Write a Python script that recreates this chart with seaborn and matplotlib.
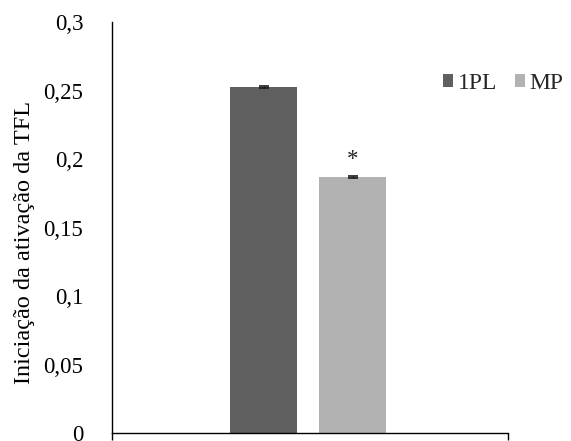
import matplotlib
matplotlib.use("Agg")
import matplotlib.pyplot as plt
import seaborn as sns
import pandas as pd
from matplotlib.ticker import FuncFormatter

# Data
categories = [""]
series = ["1PL", "MP"]
values_1pl = [0.2525]
values_mp = [0.187]
errors = [0.0006, 0.0006]
colors = ["#5f5f5f", "#b2b2b2"]
ylabel = "Iniciação da ativação da TFL"
signif = ["", "*"]

df = pd.DataFrame({
    "cat": categories * 2,
    "serie": series,
    "valor": values_1pl + values_mp,
})

sns.set_theme(style="white")
plt.rcParams["font.family"] = ["Liberation Serif", "DejaVu Serif"]

fig = plt.figure(figsize=(5.71, 4.41), dpi=100)
ax = fig.add_axes([0.197, 0.018, 0.692, 0.932])

sns.barplot(data=df, x="cat", y="valor", hue="serie", palette=colors,
            width=0.45, gap=0.25, errorbar=None, ax=ax, saturation=1,
            linewidth=0)

# error bars and significance marks on bar patches
bars = [p for p in ax.patches if p.get_height() > 0]
vals = values_1pl + values_mp
for p, v, e, s in zip(bars, vals, errors, signif):
    cx = p.get_x() + p.get_width() / 2
    ax.errorbar(cx, v, yerr=e, fmt="none", ecolor="#1a1a1a",
                capsize=3.3, elinewidth=1, capthick=1.2)
    if s:
        ax.text(cx, v + 0.005, s, ha="center", va="bottom", fontsize=16.5,
                color="#222222")

ax.set_xlim(-0.495, 0.505)
ax.set_ylim(0, 0.3)
ax.set_yticks([0, 0.05, 0.1, 0.15, 0.2, 0.25, 0.3])
ax.yaxis.set_major_formatter(FuncFormatter(
    lambda v, pos: ("%g" % round(v, 2)).replace(".", ",")))
ax.set_xticks(list(ax.get_xlim()))
ax.set_xticklabels(["", ""])
ax.tick_params(axis="x", direction="out", length=5, width=1, color="black",
               bottom=True)
ax.tick_params(axis="y", left=False, labelsize=16.5, pad=15, colors="black")
ax.set_xlabel("")
ax.set_ylabel(ylabel, fontsize=17.5, color="black")
ax.yaxis.set_label_coords(-0.196, 0.465)
for side in ["top", "right"]:
    ax.spines[side].set_visible(False)
for side in ["left", "bottom"]:
    ax.spines[side].set_color("black")
    ax.spines[side].set_linewidth(1)

leg = ax.legend(loc="center left", bbox_to_anchor=(0.776, 0.811),
                bbox_transform=fig.transFigure, ncol=2, frameon=False,
                fontsize=17, handlelength=0.42, handleheight=0.42,
                handletextpad=0.2, columnspacing=0.75, borderpad=0,
                borderaxespad=0)

fig.savefig("out.png", dpi=100)
